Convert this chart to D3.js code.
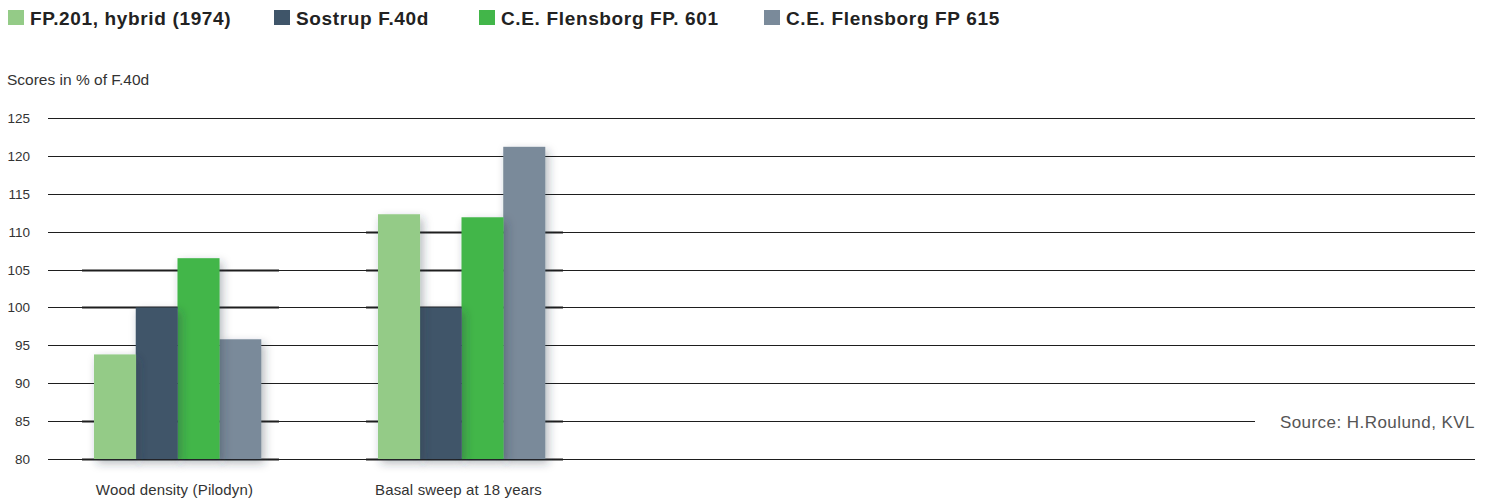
<!DOCTYPE html>
<html><head><meta charset="utf-8">
<script src="https://cdn.jsdelivr.net/npm/d3@7"></script>
<style>body{margin:0;background:#fff;}svg{display:block;font-family:"Liberation Sans",Arial,sans-serif;}</style>
</head><body>
<svg id="c" width="1488" height="502"></svg>
<script>
const categories = ["Wood density (Pilodyn)", "Basal sweep at 18 years"];
const seriesNames = ["FP.201, hybrid (1974)", "Sostrup F.40d", "C.E. Flensborg FP. 601", "C.E. Flensborg FP 615"];
const seriesColors = ["#94cb87", "#3f5569", "#42b649", "#7a8a9a"];
const fp201 = [93.8, 112.3];
const sostrup = [100, 100];
const fp601 = [106.5, 111.9];
const fp615 = [95.8, 121.2];
const yTicks = [80, 85, 90, 95, 100, 105, 110, 115, 120, 125];
const yTitle = "Scores in % of F.40d";
const sourceText = "Source: H.Roulund, KVL";
const legendX = [8, 274, 479, 764];

const seriesValues = [fp201, sostrup, fp601, fp615];
const svg = d3.select("#c");
const defs = svg.append("defs");
const f = defs.append("filter").attr("id","sh").attr("x","-50%").attr("y","-20%").attr("width","200%").attr("height","150%");
f.append("feDropShadow").attr("dx",3).attr("dy",4).attr("stdDeviation",5).attr("flood-color","#2a3540").attr("flood-opacity",0.35);

const y = d3.scaleLinear().domain([80,125]).range([459,118]);
const x0 = d3.scaleBand().domain(categories).range([35.5,603.5]).paddingInner(0.412).paddingOuter(0.206);
const x1 = d3.scaleBand().domain(seriesNames).range([0, x0.bandwidth()]);

// gridlines
const gx1 = 48, gx2 = 1475;
svg.append("g").selectAll("line").data(yTicks).join("line")
  .attr("x1", gx1).attr("x2", d => d === 85 ? 1255 : gx2)
  .attr("y1", d => Math.round(y(d))+0.5).attr("y2", d => Math.round(y(d))+0.5)
  .attr("stroke","#1e1e1e").attr("stroke-width",1.1);

// thicker tick segments near groups
categories.forEach((c, ci) => {
  const a = x0(c), b = x0(c)+x0.bandwidth();
  svg.append("g").selectAll("line").data(yTicks.filter(t => t !== 90 && t !== 95 && t <= (ci === 0 ? 105 : 110))).join("line")
    .attr("x1", a-12).attr("x2", b+18)
    .attr("y1", d => Math.round(y(d))+0.5).attr("y2", d => Math.round(y(d))+0.5)
    .attr("stroke","#1e1e1e").attr("stroke-width",2);
});

// y tick labels
svg.append("g").selectAll("text").data(yTicks).join("text")
  .attr("x", 30).attr("y", d => y(d)+5).attr("text-anchor","end")
  .attr("font-size", 13.5).attr("fill","#333").text(d => d);

svg.append("text").attr("x",7).attr("y",85).attr("font-size",15.5).attr("fill","#333").text(yTitle);

// bars (drawn in reverse so shadow falls on next bar)
const barData = [];
categories.forEach((c, ci) => {
  for (let si = seriesNames.length-1; si >= 0; si--) {
    barData.push({c, s: seriesNames[si], v: seriesValues[si][ci], color: seriesColors[si]});
  }
});
svg.append("g").selectAll("rect").data(barData).join("rect")
  .attr("x", d => x0(d.c) + x1(d.s))
  .attr("width", x1.bandwidth()+0.3)
  .attr("y", d => y(d.v))
  .attr("height", d => y(80) - y(d.v))
  .attr("fill", d => d.color)
  .attr("filter","url(#sh)");

// category labels
svg.append("g").selectAll("text").data(categories).join("text")
  .attr("x", d => x0(d) + x0.bandwidth()/2 - 3).attr("y", 495)
  .attr("text-anchor","middle").attr("font-size",15).attr("letter-spacing",0.15).attr("fill","#333").text(d => d);

// source
svg.append("text").attr("x",1475).attr("y",428).attr("text-anchor","end")
  .attr("font-size",17).attr("letter-spacing",0.45).attr("fill","#555").text(sourceText);

// legend
const lg = svg.append("g").selectAll("g").data(seriesNames).join("g")
  .attr("transform",(d,i)=>`translate(${legendX[i]},0)`);
lg.append("rect").attr("x",0).attr("y",10).attr("width",16).attr("height",15).attr("fill",(d,i)=>seriesColors[i]);
lg.append("text").attr("x",22).attr("y",25).attr("font-size",19).attr("letter-spacing",0.65).attr("font-weight","bold").attr("fill","#222").text(d=>d);
</script>
</body></html>
